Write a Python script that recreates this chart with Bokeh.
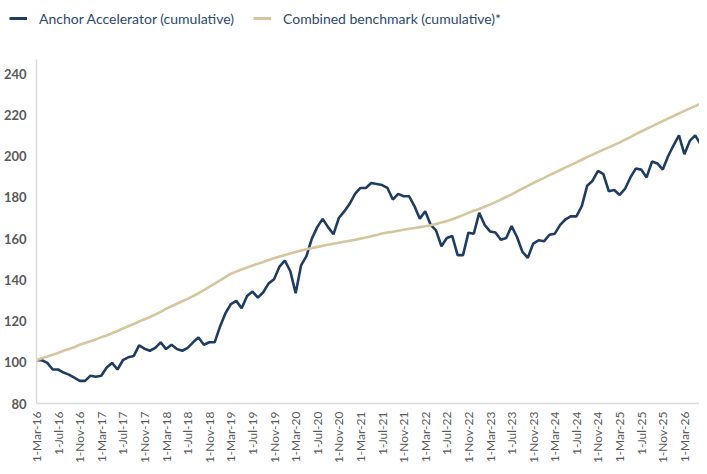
import math
from bokeh.plotting import figure
from bokeh.layouts import column
from bokeh.models import Range1d, FixedTicker, Legend, LegendItem
from bokeh.embed import file_html
from bokeh.resources import INLINE

# Monthly values, Mar-2016 onwards
anchor = [
    101.0, 101.0, 99.7, 96.5, 96.5, 95.0, 94.0, 92.5, 91.0, 91.0,
    93.5, 93.0, 93.5, 97.5, 99.7, 96.5, 101.0, 102.4, 103.0, 108.2,
    106.6, 105.6, 107.0, 109.7, 106.4, 108.5, 106.4, 105.6, 107.0, 109.7,
    112.0, 108.5, 109.7, 109.7, 117.4, 123.8, 128.2, 129.8, 126.2, 132.2,
    134.3, 131.4, 134.0, 138.3, 140.3, 146.4, 149.3, 144.3, 133.5, 147.0,
    151.5, 160.0, 165.6, 169.6, 165.6, 162.1, 170.0, 173.2, 176.9, 181.7,
    184.6, 184.6, 187.0, 186.5, 186.0, 184.6, 179.0, 181.7, 180.6, 180.6,
    175.8, 169.6, 173.3, 166.7, 164.0, 156.3, 160.3, 161.3, 152.0, 152.0,
    162.9, 162.4, 172.5, 166.7, 163.5, 163.0, 159.5, 160.3, 166.1, 160.8,
    153.6, 150.7, 157.6, 159.2, 158.7, 161.9, 162.4, 166.7, 169.4, 170.9,
    170.8, 175.8, 185.7, 188.1, 192.9, 191.3, 183.0, 183.6, 181.2, 184.1,
    189.7, 194.0, 193.5, 189.7, 197.4, 196.5, 193.5, 200.1, 205.3, 210.1,
    201.0, 207.4, 210.1, 205.8,
]

benchmark = [
    101.0, 102.0, 102.8, 103.7, 104.5, 105.6, 106.4, 107.3, 108.5,
    109.4, 110.2, 111.1, 112.2, 113.0, 114.1, 115.2, 116.4,
    117.5, 118.6, 119.8, 120.9, 122.0, 123.2, 124.5, 126.0,
    127.2, 128.4, 129.6, 130.8, 132.1, 133.5,
    135.0, 136.6, 138.2, 139.7, 141.3, 143.0,
    144.0, 145.0, 146.0, 147.0,
    147.8, 148.7, 149.6, 150.5,
    151.3, 152.0, 152.8, 153.5,
    154.2, 154.8, 155.4, 156.0,
    156.5, 157.0, 157.5, 158.0,
    158.5, 159.0, 159.4, 160.0,
    160.6, 161.2, 161.8, 162.5,
    163.0, 163.3, 163.8, 164.3,
    164.8, 165.2, 165.6, 166.0,
    166.5, 167.1, 167.8, 168.5,
    169.4, 170.4, 171.4, 172.5,
    173.5, 174.4, 175.5, 176.5,
    177.7, 178.9, 180.2, 181.5,
    182.9, 184.3, 185.6, 187.0,
    188.3, 189.5, 190.8, 192.0,
    193.3, 194.6, 195.8, 197.0,
    198.3, 199.6, 200.8, 202.0,
    203.2, 204.3, 205.5, 206.6,
    208.0, 209.3, 210.7, 212.0,
    213.3, 214.5, 215.8, 217.0,
    218.3, 219.5, 220.8, 222.0,
    223.2, 224.3, 225.5,
]

tick_labels = [
    "1-Mar-16", "1-Jul-16", "1-Nov-16", "1-Mar-17", "1-Jul-17", "1-Nov-17",
    "1-Mar-18", "1-Jul-18", "1-Nov-18", "1-Mar-19", "1-Jul-19", "1-Nov-19",
    "1-Mar-20", "1-Jul-20", "1-Nov-20", "1-Mar-21", "1-Jul-21", "1-Nov-21",
    "1-Mar-22", "1-Jul-22", "1-Nov-22", "1-Mar-23", "1-Jul-23", "1-Nov-23",
    "1-Mar-24", "1-Jul-24", "1-Nov-24", "1-Mar-25", "1-Jul-25", "1-Nov-25",
    "1-Mar-26",
]
y_ticks = [80, 100, 120, 140, 160, 180, 200, 220, 240]

series_names = ["Anchor Accelerator (cumulative)", "Combined benchmark (cumulative)*"]
series_colors = ["#1f3d63", "#d6c69e"]

month_index = list(range(len(anchor)))
tick_positions = [4 * k for k in range(len(tick_labels))]

# ---- main chart ----
p = figure(width=699, height=436, output_backend="svg", toolbar_location=None,
           x_range=Range1d(0, 122.8), y_range=Range1d(80, 261.0),
           min_border_left=32, min_border_right=0, min_border_top=0,
           min_border_bottom=0)
p.outline_line_color = None
p.xgrid.visible = False
p.ygrid.visible = False
p.background_fill_color = "white"
p.border_fill_color = "white"

p.line(month_index, anchor, line_color=series_colors[0], line_width=2.6)
p.line(month_index, benchmark[:len(month_index)], line_color=series_colors[1], line_width=2.6)

ax = p.yaxis[0]
ax.ticker = FixedTicker(ticks=y_ticks)
ax.bounds = (80, 247)
ax.axis_line_color = "#d9d9d9"
ax.axis_line_width = 1.5
ax.major_tick_line_color = None
ax.minor_tick_line_color = None
ax.major_tick_out = 0
ax.major_tick_in = 0
ax.major_label_text_font = "Lato"
ax.major_label_text_font_size = "13px"
ax.major_label_text_font_style = "bold"
ax.major_label_text_color = "#595959"
ax.major_label_standoff = 10

bx = p.xaxis[0]
bx.ticker = FixedTicker(ticks=tick_positions)
bx.major_label_overrides = {pos: lab for pos, lab in zip(tick_positions, tick_labels)}
bx.major_label_orientation = math.pi / 2
bx.axis_line_color = "#d9d9d9"
bx.axis_line_width = 1.5
bx.major_tick_line_color = None
bx.minor_tick_line_color = None
bx.major_tick_out = 0
bx.major_tick_in = 0
bx.major_label_text_font = "Lato"
bx.major_label_text_font_size = "12px"
bx.major_label_text_color = "#595959"
bx.major_label_standoff = 8

# ---- legend strip above the chart (its lines sit outside its visible range) ----
lg = figure(width=699, height=30, output_backend="svg", toolbar_location=None,
            x_axis_type=None, y_axis_type=None,
            x_range=Range1d(0, 1), y_range=Range1d(0, 1),
            min_border=0, min_border_left=0, min_border_right=0,
            min_border_top=0, min_border_bottom=0)
lg.outline_line_color = None
lg.xgrid.visible = False
lg.ygrid.visible = False
lr1 = lg.line(month_index, anchor, line_color=series_colors[0], line_width=3)
lr2 = lg.line(month_index, benchmark[:len(month_index)], line_color=series_colors[1], line_width=3)

legend = Legend(
    items=[LegendItem(label=series_names[0], renderers=[lr1]),
           LegendItem(label=series_names[1], renderers=[lr2])],
    location=(9, 2), orientation="horizontal",
    glyph_width=18, glyph_height=20, label_height=20, label_standoff=12,
    spacing=19, padding=0, margin=0,
    border_line_alpha=0, background_fill_alpha=0,
    label_text_font="Lato", label_text_font_size="14px",
    label_text_color="#2b4a6f")
lg.add_layout(legend, "center")

layout = column(column(lg, spacing=0), p, spacing=0)
open("out.html", "w").write(file_html(layout, INLINE))
